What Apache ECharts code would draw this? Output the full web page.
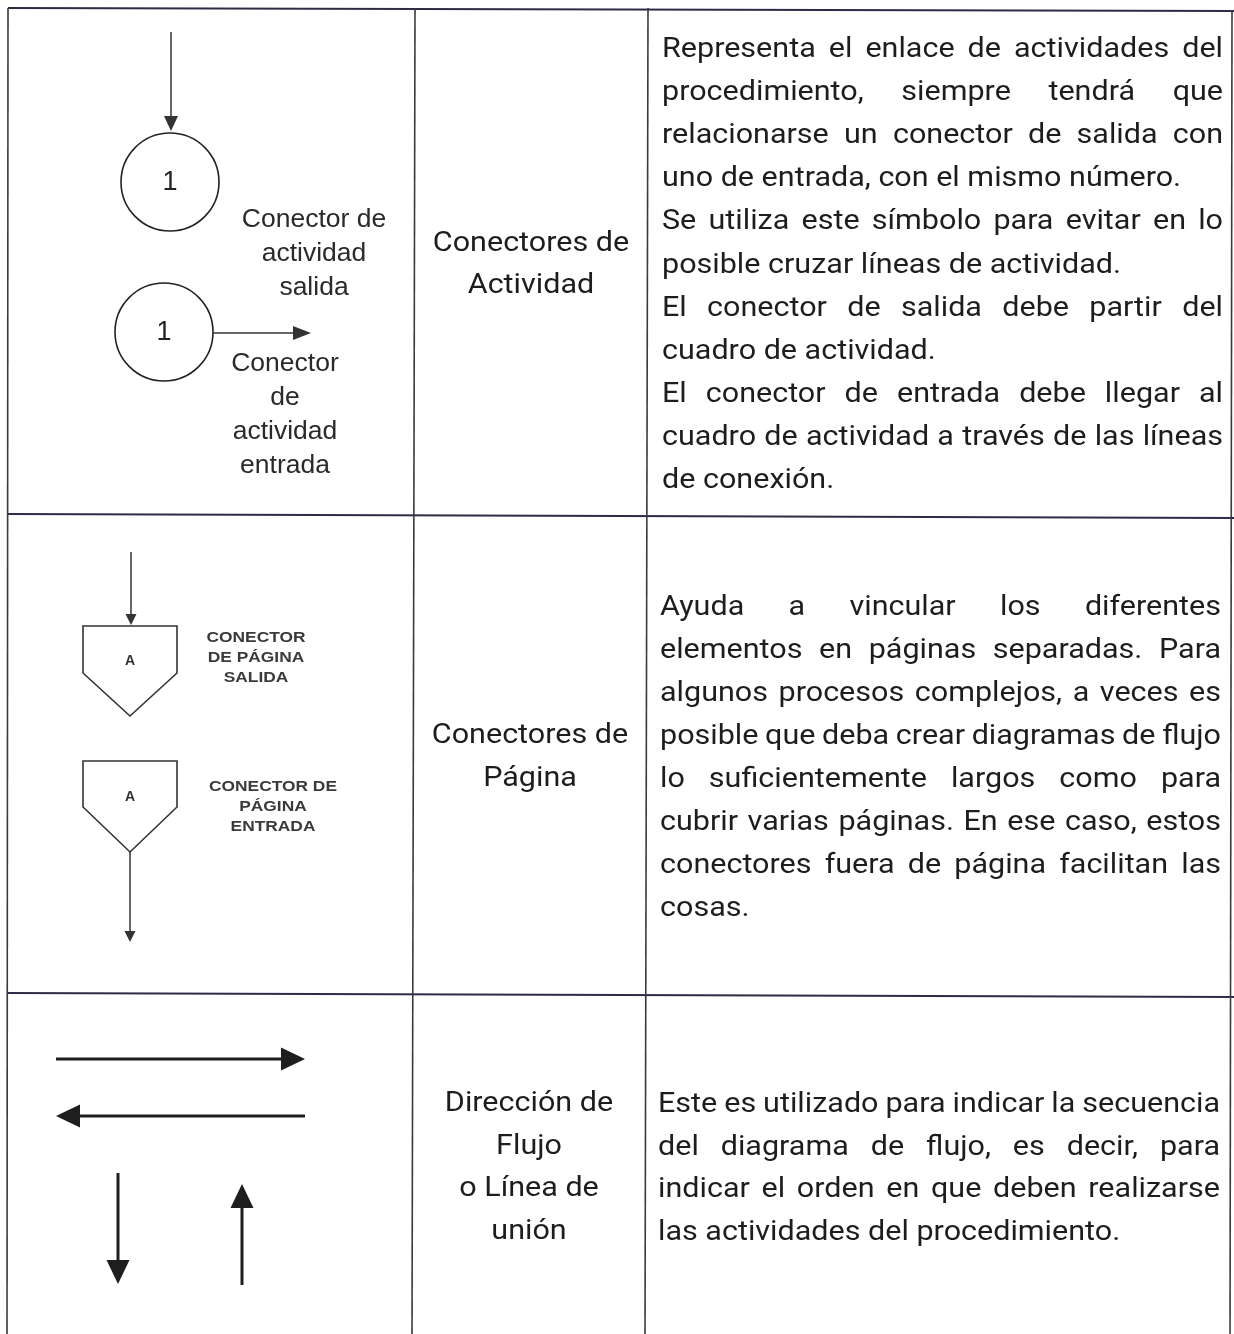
<!DOCTYPE html>
<html><head><meta charset="utf-8">
<script src="https://cdn.jsdelivr.net/npm/echarts@6/dist/echarts.min.js"></script>
<style>html,body{margin:0;padding:0;background:#fff}#c{width:1234px;height:1334px}</style>
</head><body><div id="c"></div>
<script>
// ---------------- content ----------------
const rowNames = [
  ['Conectores de', 'Actividad'],
  ['Conectores de', 'Página'],
  ['Dirección de', 'Flujo', 'o Línea de', 'unión']
];
const rowDescriptions = [
  [
    ['Representa el enlace de actividades del', 'procedimiento, siempre tendrá que', 'relacionarse un conector de salida con', 'uno de entrada, con el mismo número.'],
    ['Se utiliza este símbolo para evitar en lo', 'posible cruzar líneas de actividad.'],
    ['El conector de salida debe partir del', 'cuadro de actividad.'],
    ['El conector de entrada debe llegar al', 'cuadro de actividad a través de las líneas', 'de conexión.']
  ],
  [
    ['Ayuda a vincular los diferentes', 'elementos en páginas separadas. Para', 'algunos procesos complejos, a veces es', 'posible que deba crear diagramas de flujo', 'lo suficientemente largos como para', 'cubrir varias páginas. En ese caso, estos', 'conectores fuera de página facilitan las', 'cosas.']
  ],
  [
    ['Este es utilizado para indicar la secuencia', 'del diagrama de flujo, es decir, para', 'indicar el orden en que deben realizarse', 'las actividades del procedimiento.']
  ]
];
const activityConnectorLabels = [['Conector de', 'actividad', 'salida'], ['Conector', 'de', 'actividad', 'entrada']];
const activityConnectorNumbers = ['1', '1'];
const pageConnectorLabels = [['CONECTOR', 'DE PÁGINA', 'SALIDA'], ['CONECTOR DE', 'PÁGINA', 'ENTRADA']];
const pageConnectorLetters = ['A', 'A'];
const flowDirections = ['right', 'left', 'down', 'up'];

// ---------------- layout (page space, px) ----------------
const L = {
  W: 1234, H: 1334,
  hLines: [[8, 8, 1234, 11], [8, 514, 1234, 518], [8, 993, 1234, 997]],
  vLines: [[8, 8, 7, 1334], [415, 8, 412, 1334], [648, 8, 645, 1334], [1232, 10, 1230, 1334]],
  nameCenter: [[531, 244], [530, 736], [529, 1104]],
  nameStep: [42, 43, 42.7],
  descBox: [[662, 1223, 50], [660, 1221, 608], [658, 1220, 1105]],
  descStep: [43.1, 43, 42.7],
  bodyFont: '28px Roboto, "Noto Sans", sans-serif',
  bodyStretch: 1.09,
  circles: [{c: [170, 182], r: 49}, {c: [164, 332], r: 49}],
  actInArrow: [171, 32, 171, 131],
  actOutArrow: [213, 333, 311, 333],
  actLabelPos: [[314, 220, 34], [285, 364, 34]],
  pent: [{x0: 83, x1: 177, top: 626, side: 673, tip: 716, letterY: 661},
         {x0: 83, x1: 177, top: 761, side: 807, tip: 852, letterY: 797}],
  pageInArrow: [131, 552, 131, 625],
  pageOutArrow: [130, 852, 130, 942],
  pageLabelPos: [[256, 638, 20], [273, 787, 20]],
  flow: {right: [56, 1059, 305, 1059], left: [305, 1116, 56, 1116], down: [118, 1173, 118, 1284], up: [242, 1285, 242, 1184]}
};

const measureCtx = document.createElement('canvas').getContext('2d');
function tw(s, font) { measureCtx.font = font; return measureCtx.measureText(s).width; }

function textEl(s, x, y, font, fill, align, scaleX) {
  return {
    type: 'text', x: x, y: y, scaleX: scaleX || 1, scaleY: 1,
    style: {text: s, x: 0, y: 0, font: font, fill: fill, align: align || 'left', verticalAlign: 'middle'}
  };
}

function justifiedLine(line, x0, x1, y, font, fill, justify, stretch) {
  const avail = x1 - x0;
  const natural = tw(line, font) * stretch;
  if (!justify) {
    return [textEl(line, x0, y, font, fill, 'left', natural > avail ? stretch * avail / natural : stretch)];
  }
  const words = line.split(' ');
  const ws = words.map(w => tw(w, font) * stretch);
  const sum = ws.reduce((a, b) => a + b, 0);
  const sp = tw(' ', font) * stretch;
  if (words.length < 2 || sum + (words.length - 1) * sp * 0.6 > avail) {
    return [textEl(line, x0, y, font, fill, 'left', stretch * avail / natural)];
  }
  const gap = (avail - sum) / (words.length - 1);
  const els = [];
  let x = x0;
  words.forEach((w, i) => { els.push(textEl(w, x, y, font, fill, 'left', stretch)); x += ws[i] + gap; });
  return els;
}

function arrowEls(api, seg, headLen, headHalf, lw, color) {
  const a = api.coord([seg[0], seg[1]]), b = api.coord([seg[2], seg[3]]);
  const dx = b[0] - a[0], dy = b[1] - a[1];
  const len = Math.sqrt(dx * dx + dy * dy), ux = dx / len, uy = dy / len;
  const bx = b[0] - ux * headLen, by = b[1] - uy * headLen;
  const px = -uy, py = ux;
  return [
    {type: 'line', shape: {x1: a[0], y1: a[1], x2: bx + ux * 2, y2: by + uy * 2}, style: {stroke: color, lineWidth: lw}},
    {type: 'polygon', shape: {points: [[b[0], b[1]], [bx + px * headHalf, by + py * headHalf], [bx - px * headHalf, by - py * headHalf]]}, style: {fill: color}}
  ];
}

function render(params, api) {
  const C = (x, y) => api.coord([x, y]);
  const children = [];
  // table rules
  L.hLines.forEach(s => {
    const a = C(s[0], s[1]), b = C(s[2], s[3]);
    children.push({type: 'line', shape: {x1: a[0], y1: a[1], x2: b[0], y2: b[1]}, style: {stroke: '#2c2c46', lineWidth: 2}});
  });
  L.vLines.forEach(s => {
    const a = C(s[0], s[1]), b = C(s[2], s[3]);
    children.push({type: 'line', shape: {x1: a[0], y1: a[1], x2: b[0], y2: b[1]}, style: {stroke: '#3a3a3a', lineWidth: 1.6}});
  });
  // names (middle column)
  rowNames.forEach((lines, r) => {
    lines.forEach((t, i) => {
      const p = C(L.nameCenter[r][0], L.nameCenter[r][1] + i * L.nameStep[r]);
      children.push(textEl(t, p[0], p[1], L.bodyFont, '#1d1d1d', 'center', L.bodyStretch));
    });
  });
  // descriptions
  rowDescriptions.forEach((paras, r) => {
    const box = L.descBox[r];
    let k = 0;
    paras.forEach(para => {
      para.forEach((line, i) => {
        const y = box[2] + k * L.descStep[r];
        const a = C(box[0], y), b = C(box[1], y);
        justifiedLine(line, a[0], b[0], a[1], L.bodyFont, '#1d1d1d', i < para.length - 1, L.bodyStretch).forEach(e => children.push(e));
        k++;
      });
    });
  });
  // activity connectors
  L.circles.forEach((c, i) => {
    const p = C(c.c[0], c.c[1]);
    children.push({type: 'circle', shape: {cx: p[0], cy: p[1], r: c.r}, style: {fill: 'none', stroke: '#222', lineWidth: 1.6}});
    children.push(textEl(activityConnectorNumbers[i], p[0], p[1] + 1, '27px "Liberation Sans", Arial, sans-serif', '#222', 'center', 1));
  });
  arrowEls(api, L.actInArrow, 15, 7, 1.5, '#333').forEach(e => children.push(e));
  arrowEls(api, L.actOutArrow, 18, 7, 1.5, '#333').forEach(e => children.push(e));
  activityConnectorLabels.forEach((lines, g) => {
    const pos = L.actLabelPos[g];
    lines.forEach((t, i) => {
      const p = C(pos[0], pos[1] + i * pos[2]);
      children.push(textEl(t, p[0], p[1], '25px "Liberation Sans", Arial, sans-serif', '#2a2a2a', 'center', 1.06));
    });
  });
  // page connectors
  L.pent.forEach((pt, i) => {
    const pts = [C(pt.x0, pt.top), C(pt.x1, pt.top), C(pt.x1, pt.side), C((pt.x0 + pt.x1) / 2, pt.tip), C(pt.x0, pt.side)];
    children.push({type: 'polygon', shape: {points: pts}, style: {fill: 'none', stroke: '#333', lineWidth: 1.6}});
    const p = C((pt.x0 + pt.x1) / 2, pt.letterY);
    children.push(textEl(pageConnectorLetters[i], p[0], p[1], 'bold 14px "Liberation Sans", Arial, sans-serif', '#333', 'center', 1));
  });
  arrowEls(api, L.pageInArrow, 11, 5.5, 1.5, '#333').forEach(e => children.push(e));
  arrowEls(api, L.pageOutArrow, 11, 5.5, 1.5, '#333').forEach(e => children.push(e));
  pageConnectorLabels.forEach((lines, g) => {
    const pos = L.pageLabelPos[g];
    lines.forEach((t, i) => {
      const p = C(pos[0], pos[1] + i * pos[2]);
      children.push(textEl(t, p[0], p[1], 'bold 14px "Liberation Sans", Arial, sans-serif', '#3a3a3a', 'center', 1.24));
    });
  });
  // flow direction arrows
  flowDirections.forEach(d => {
    arrowEls(api, L.flow[d], 24, 11.5, 3, '#1e1e1e').forEach(e => children.push(e));
  });
  return {type: 'group', children: children};
}

const chart = echarts.init(document.getElementById('c'), null, {renderer: 'canvas'});
chart.setOption({
  backgroundColor: '#ffffff',
  animation: false,
  grid: {left: 0, right: 0, top: 0, bottom: 0},
  xAxis: {type: 'value', min: 0, max: L.W, show: false},
  yAxis: {type: 'value', min: 0, max: L.H, inverse: true, show: false},
  series: [{
    type: 'custom', clip: false, silent: true,
    data: [[0, 0]],
    renderItem: render
  }]
});
</script>
</body></html>
